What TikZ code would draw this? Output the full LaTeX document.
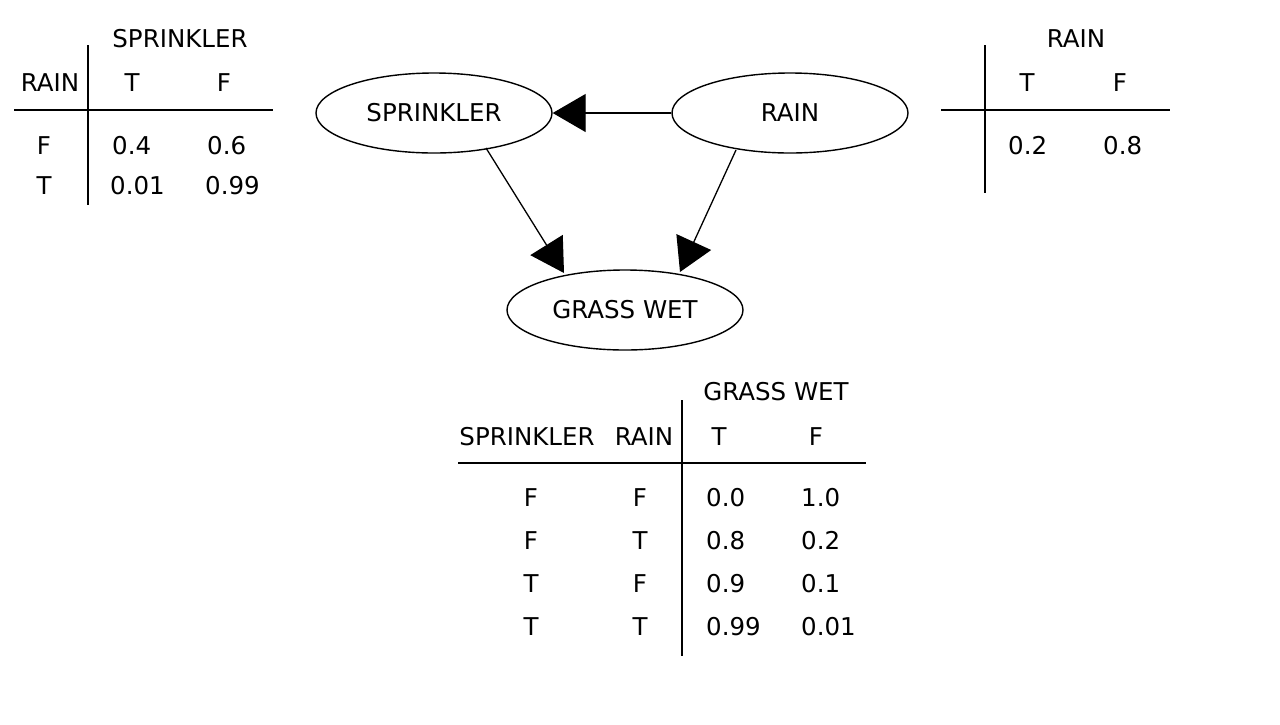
\documentclass[tikz,border=0pt]{standalone}
\usepackage{fontspec}
\setmainfont{DejaVu Sans}
\usetikzlibrary{arrows.meta,shapes.geometric}
\begin{document}
\begin{tikzpicture}[x=1pt,y=-1pt,
  txt/.style={inner sep=0pt,font=\fontsize{24.5}{28}\selectfont},
  lt/.style={txt,anchor=west},
  ct/.style={txt,anchor=center},
  varnode/.style={draw,ellipse,minimum width=236pt,minimum height=80pt,inner sep=0pt,line width=1.4pt,font=\fontsize{24.5}{28}\selectfont},
  edge/.style={line width=1.3pt,-{Triangle[length=33pt,width=38pt]}},
  rule/.style={line width=1.4pt}]
\useasboundingbox (0,0) rectangle (1280,724);
\fill[white] (0,0) rectangle (1280,724);
% nodes
\node[varnode] (spr) at (434,113) {SPRINKLER};
\node[varnode] (rain) at (790,113) {RAIN};
\node[varnode] (gw) at (625,310) {GRASS WET};
\coordinate (e1s) at (486,148); \coordinate (e1e) at (564,273);
\coordinate (e2s) at (736,150); \coordinate (e2e) at (680,272);
\draw[edge] (rain.west) -- (spr.east);
\draw[edge] (e1s) -- (e1e);
\draw[edge] (e2s) -- (e2e);
% top-left table
\coordinate (a1) at (88,45); \coordinate (a2) at (88,205);
\coordinate (a3) at (14,110); \coordinate (a4) at (273,110);
\draw[rule] (a1) -- (a2); \draw[rule] (a3) -- (a4);
\node[ct] (s1) at (180,39) {SPRINKLER};
\node[ct] (s2) at (50,83) {RAIN};
\node[ct] (s3) at (132,83) {T};
\node[ct] (s4) at (224,83) {F};
\node[ct] (s5) at (44,146) {F};
\node[lt] (s6) at (112,146) {0.4};
\node[lt] (s7) at (207,146) {0.6};
\node[ct] (s8) at (44,186) {T};
\node[lt] (s9) at (110,186) {0.01};
\node[lt] (s10) at (205,186) {0.99};
% top-right table
\coordinate (b1) at (985,45); \coordinate (b2) at (985,193);
\coordinate (b3) at (941,110); \coordinate (b4) at (1170,110);
\draw[rule] (b1) -- (b2); \draw[rule] (b3) -- (b4);
\node[ct] (r1) at (1076,39) {RAIN};
\node[ct] (r2) at (1027,83) {T};
\node[ct] (r3) at (1120,83) {F};
\node[lt] (r4) at (1008,146) {0.2};
\node[lt] (r5) at (1103,146) {0.8};
% bottom table
\coordinate (c1) at (682,400); \coordinate (c2) at (682,656);
\coordinate (c3) at (458,463); \coordinate (c4) at (866,463);
\draw[rule] (c1) -- (c2); \draw[rule] (c3) -- (c4);
\node[ct] (g1) at (776,392) {GRASS WET};
\node[ct] (g2) at (527,437) {SPRINKLER};
\node[ct] (g3) at (644,437) {RAIN};
\node[ct] (g4) at (719,437) {T};
\node[ct] (g5) at (816,437) {F};
\node[ct] (g6) at (531,498) {F};
\node[ct] (g7) at (640,498) {F};
\node[lt] (g8) at (706,498) {0.0};
\node[lt] (g9) at (801,498) {1.0};
\node[ct] (g10) at (531,541) {F};
\node[ct] (g11) at (640,541) {T};
\node[lt] (g12) at (706,541) {0.8};
\node[lt] (g13) at (801,541) {0.2};
\node[ct] (g14) at (531,584) {T};
\node[ct] (g15) at (640,584) {F};
\node[lt] (g16) at (706,584) {0.9};
\node[lt] (g17) at (801,584) {0.1};
\node[ct] (g18) at (531,627) {T};
\node[ct] (g19) at (640,627) {T};
\node[lt] (g20) at (706,627) {0.99};
\node[lt] (g21) at (801,627) {0.01};
\end{tikzpicture}
\end{document}
